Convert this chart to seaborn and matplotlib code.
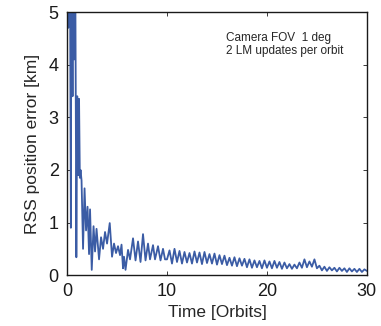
import matplotlib
matplotlib.use('Agg')
import matplotlib.pyplot as plt
import seaborn as sns
import pandas as pd

# 数据
time_orbits = [0.0, 0.12, 0.25, 0.38, 0.45, 0.55, 0.62, 0.72, 0.80, 0.93,
               1.02, 1.12, 1.20, 1.28, 1.35, 1.45, 1.6, 1.75, 1.9, 2.05,
               2.2, 2.3, 2.47, 2.65, 2.8, 2.95, 3.2, 3.4, 3.6, 3.8,
               4.0, 4.27, 4.5, 4.7, 4.9, 5.1, 5.3, 5.45, 5.6, 5.7,
               5.85, 6.1, 6.3, 6.6, 6.85, 7.1, 7.35, 7.6, 7.85, 8.1,
               8.3, 8.6, 8.8, 9.1, 9.35, 9.6, 9.8,
               10.0, 10.25, 10.5, 10.75, 11.0, 11.25, 11.5, 11.75,
               12.0, 12.25, 12.5, 12.75, 13.0, 13.25, 13.5, 13.75,
               14.0, 14.25, 14.5, 14.75, 15.0, 15.25, 15.5, 15.75,
               16.0, 16.25, 16.5, 16.75, 17.0, 17.25, 17.5, 17.75,
               18.0, 18.25, 18.5, 18.75, 19.0, 19.25, 19.5, 19.75,
               20.0, 20.25, 20.5, 20.75, 21.0, 21.25, 21.5, 21.75,
               22.0, 22.25, 22.5, 22.75, 23.0, 23.25, 23.5, 23.75,
               24.0, 24.25, 24.5, 24.75, 25.0, 25.25, 25.5, 25.75,
               26.0, 26.25, 26.5, 26.75, 27.0, 27.25, 27.5, 27.75,
               28.0, 28.25, 28.5, 28.75, 29.0, 29.25, 29.5, 29.75, 30.0]
rss_error_km = [9.0, 4.7, 8.5, 0.9, 7.5, 3.4, 8.0, 4.1, 7.0, 0.34,
                3.4, 1.9, 3.35, 1.85, 2.0, 1.8, 0.5, 1.65, 0.85, 1.3,
                0.4, 1.25, 0.1, 0.93, 0.45, 0.88, 0.3, 0.72, 0.5, 0.82,
                0.6, 0.99, 0.35, 0.6, 0.42, 0.55, 0.38, 0.58, 0.13, 0.35,
                0.1, 0.48, 0.3, 0.7, 0.28, 0.64, 0.25, 0.78, 0.28, 0.6,
                0.3, 0.57, 0.3, 0.55, 0.28, 0.5, 0.3,
                0.30, 0.47, 0.22, 0.50, 0.25, 0.46, 0.22, 0.44,
                0.24, 0.42, 0.22, 0.45, 0.24, 0.43, 0.21, 0.44,
                0.23, 0.40, 0.22, 0.41, 0.20, 0.38, 0.21, 0.37,
                0.19, 0.33, 0.18, 0.34, 0.17, 0.32, 0.18, 0.31,
                0.15, 0.30, 0.14, 0.28, 0.15, 0.27, 0.13, 0.28,
                0.14, 0.26, 0.13, 0.27, 0.14, 0.25, 0.12, 0.24,
                0.13, 0.21, 0.12, 0.20, 0.13, 0.24, 0.14, 0.30,
                0.15, 0.26, 0.16, 0.30, 0.13, 0.18, 0.09, 0.16,
                0.08, 0.15, 0.09, 0.14, 0.07, 0.14, 0.08, 0.13,
                0.06, 0.13, 0.07, 0.12, 0.06, 0.12, 0.06, 0.11, 0.08]

df = pd.DataFrame({'t': time_orbits, 'err': rss_error_km})

sns.set_style("ticks")
plt.rcParams['font.family'] = ['Liberation Sans', 'DejaVu Sans']
plt.rcParams['xtick.direction'] = 'in'
plt.rcParams['ytick.direction'] = 'in'

fig = plt.figure(figsize=(3.81, 3.26), dpi=100)
ax = fig.add_axes([0.176, 0.156, 0.787, 0.807])

sns.lineplot(data=df, x='t', y='err', estimator=None, sort=False,
             color='#3b5ca5', linewidth=1.3, ax=ax)

ax.set_xlim(0, 30)
ax.set_ylim(0, 5)
ax.set_xticks([0, 10, 20, 30])
ax.set_yticks([0, 1, 2, 3, 4, 5])
ax.tick_params(which='both', top=True, right=True, length=3, width=0.6,
               labelsize=13, pad=6, colors='#1a1a1a')
for s in ax.spines.values():
    s.set_linewidth(1.0)
    s.set_color('#1a1a1a')
    s.set_visible(True)

ax.set_xlabel('Time [Orbits]', fontsize=12.5, labelpad=3)
ax.set_ylabel('RSS position error [km]', fontsize=12.5, labelpad=6)

ax.text(15.9, 4.62, 'Camera FOV  1 deg\n2 LM updates per orbit',
        fontsize=8.5, va='top', ha='left', linespacing=1.1)

fig.savefig('out.png', dpi=100)
